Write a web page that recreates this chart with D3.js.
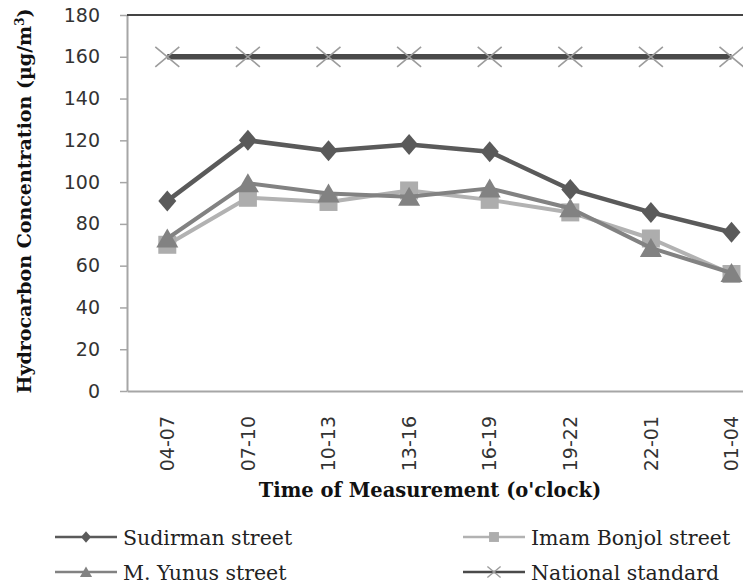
<!DOCTYPE html>
<html>
<head>
<meta charset="utf-8">
<script src="https://cdnjs.cloudflare.com/ajax/libs/d3/7.8.5/d3.min.js"></script>
<style>
  body { margin: 0; background: #fff; }
  svg { display: block; }
</style>
</head>
<body>
<svg width="743" height="583"></svg>
<script>
// data
var categories = ["04-07", "07-10", "10-13", "13-16", "16-19", "19-22", "22-01", "01-04"];
var sudirman   = [91, 120, 115, 118, 114.5, 96.5, 85.5, 76];
var imamBonjol = [70, 92.5, 90.5, 96, 91.5, 85.5, 73, 56];
var mYunus     = [73, 99.5, 94.5, 93, 97, 87.5, 68.5, 56.5];
var national   = [160, 160, 160, 160, 160, 160, 160, 160];
var yTicks = [0, 20, 40, 60, 80, 100, 120, 140, 160, 180];

var svg = d3.select("svg"),
    plotLeft = 127, plotTop = 15, plotBottom = 391;

var x = d3.scaleBand()
    .domain(categories)
    .range([plotLeft, plotLeft + 8 * 80.6])
    .padding(0);
var cx = function(c) { return x(c) + x.bandwidth() / 2; };

var y = d3.scaleLinear()
    .domain([0, 180])
    .range([plotBottom, plotTop]);

// marker shapes
var markers = {
  diamond: function(s) { return "M0," + (-10.5*s) + "L" + (9*s) + ",0L0," + (10.5*s) + "L" + (-9*s) + ",0Z"; },
  square: function(s) { var h = 9*s; return "M" + -h + "," + -h + "H" + h + "V" + h + "H" + -h + "Z"; },
  triangle: function(s) { return "M0," + (-10*s) + "L" + (11*s) + "," + (9*s) + "L" + (-11*s) + "," + (9*s) + "Z"; },
  cross: function(s) { return "M" + (-12*s) + "," + (-10*s) + "L" + (12*s) + "," + (10*s) + "M" + (-12*s) + "," + (10*s) + "L" + (12*s) + "," + (-10*s); }
};

var series = [
  { name: "Sudirman street",    values: sudirman,   line: "#5a5a5a", mark: "#5a5a5a", shape: "diamond",  width: 4.5 },
  { name: "Imam Bonjol street", values: imamBonjol, line: "#b2b2b2", mark: "#adadad", shape: "square",   width: 4 },
  { name: "M. Yunus street",    values: mYunus,     line: "#828282", mark: "#828282", shape: "triangle", width: 4 },
  { name: "National standard",  values: national,   line: "#4a4a4a", mark: "#9c9c9c", shape: "cross",    width: 5.5 }
];

// y axis
var yAxis = svg.append("g")
    .attr("transform", "translate(" + plotLeft + ",0)")
    .call(d3.axisLeft(y).tickValues(yTicks).tickSize(7).tickSizeOuter(0).tickPadding(20));
yAxis.select(".domain").attr("stroke", "#a6a6a6").attr("stroke-width", 2);
yAxis.selectAll(".tick line").attr("stroke", "#a6a6a6").attr("stroke-width", 1.5);
yAxis.selectAll(".tick text")
    .style("font-family", "DejaVu Sans")
    .style("font-size", "19px")
    .attr("fill", "#333");

// x axis
var xAxis = svg.append("g")
    .attr("transform", "translate(0," + plotBottom + ")")
    .call(d3.axisBottom(x).tickSize(0).tickSizeOuter(0));
xAxis.select(".domain").attr("stroke", "#a6a6a6").attr("stroke-width", 2);
xAxis.selectAll(".tick text")
    .attr("transform", "rotate(-90)")
    .attr("x", -25)
    .attr("y", 0)
    .attr("dy", "0.35em")
    .style("text-anchor", "end")
    .style("font-family", "DejaVu Sans")
    .style("font-size", "19px")
    .attr("fill", "#333");

// top border of the plot area
svg.append("line")
    .attr("x1", plotLeft).attr("x2", x.range()[1])
    .attr("y1", y(180)).attr("y2", y(180))
    .attr("stroke", "#444").attr("stroke-width", 2);

// lines and markers
var line = d3.line()
    .x(function(d, i) { return cx(categories[i]); })
    .y(function(d) { return y(d); });

series.forEach(function(s) {
  var g = svg.append("g");
  g.append("path")
      .attr("d", line(s.values))
      .attr("fill", "none")
      .attr("stroke", s.line)
      .attr("stroke-width", s.width)
      .attr("stroke-linejoin", "round");
  g.selectAll(".mark")
      .data(s.values)
      .enter().append("path")
      .attr("class", "mark")
      .attr("transform", function(d, i) { return "translate(" + cx(categories[i]) + "," + y(d) + ")"; })
      .attr("d", markers[s.shape](1))
      .attr("fill", s.shape == "cross" ? "none" : s.mark)
      .attr("stroke", s.shape == "cross" ? s.mark : "none")
      .attr("stroke-width", 1.6);
});

// axis titles
svg.append("text")
    .attr("x", 430)
    .attr("y", 497)
    .style("text-anchor", "middle")
    .style("font-family", "DejaVu Serif")
    .style("font-weight", "bold")
    .style("font-size", "19.5px")
    .attr("fill", "#111")
    .text("Time of Measurement (o'clock)");

var yTitle = svg.append("text")
    .attr("transform", "translate(31,201) rotate(-90)")
    .style("text-anchor", "middle")
    .style("font-family", "DejaVu Serif")
    .style("font-weight", "bold")
    .style("font-size", "19px")
    .attr("fill", "#111");
yTitle.append("tspan").text("Hydrocarbon Concentration (\u00b5g/m");
yTitle.append("tspan").attr("baseline-shift", "super").style("font-size", "12px").text("3");
yTitle.append("tspan").text(")");

// legend
var legendPos = [[55, 537], [463, 537], [55, 572], [463, 572]];
series.forEach(function(s, i) {
  var p = legendPos[i];
  var lg = svg.append("g").attr("transform", "translate(" + p[0] + "," + p[1] + ")");
  lg.append("line")
      .attr("x1", 0).attr("x2", 62)
      .attr("stroke", s.line)
      .attr("stroke-width", 2.5);
  lg.append("path")
      .attr("transform", "translate(31,0)")
      .attr("d", markers[s.shape](0.55))
      .attr("fill", s.shape == "cross" ? "none" : s.mark)
      .attr("stroke", s.shape == "cross" ? s.mark : "none")
      .attr("stroke-width", 1.4);
  lg.append("text")
      .attr("x", 68)
      .attr("y", 8)
      .style("font-family", "DejaVu Serif")
      .style("font-size", "20.5px")
      .attr("fill", "#222")
      .text(s.name);
});
</script>
</body>
</html>
